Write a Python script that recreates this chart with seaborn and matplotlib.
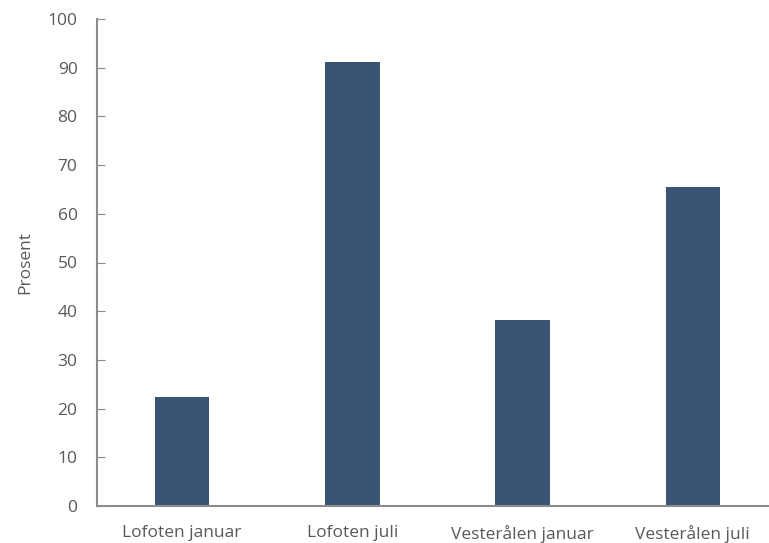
import matplotlib
matplotlib.use("Agg")
import matplotlib.pyplot as plt
import seaborn as sns
import pandas as pd

# Data
kategorier = ["Lofoten januar", "Lofoten juli", "Vesterålen januar", "Vesterålen juli"]
prosent = [22.3, 91.2, 38.1, 65.6]

df = pd.DataFrame({"kategori": kategorier, "prosent": prosent})

sns.set_style("white")
plt.rcParams["font.family"] = ["Open Sans", "DejaVu Sans"]

grey = "#595959"
fig = plt.figure(figsize=(7.69, 5.43), dpi=100)
ax = fig.add_axes([97 / 769, 37 / 543, 681 / 769, 487 / 543])

sns.barplot(data=df, x="kategori", y="prosent", color="#3A5573", width=0.32,
            saturation=1, edgecolor="none", ax=ax)

ax.set_ylim(0, 100)
ax.set_yticks(range(0, 101, 10))
ax.set_xlabel("")
ax.set_ylabel("Prosent", color=grey, fontsize=12.5, labelpad=10)
ax.tick_params(axis="y", direction="in", length=6, color="#8c8c8c", labelcolor=grey,
               labelsize=12.5, left=True, pad=14)
ax.tick_params(axis="x", length=0, labelcolor=grey, labelsize=12.5, pad=14)
for s in ["top", "right"]:
    ax.spines[s].set_visible(False)
for s in ["left", "bottom"]:
    ax.spines[s].set_color("#8c8c8c")
    ax.spines[s].set_linewidth(1.5)

fig.savefig("out.png", dpi=100)
